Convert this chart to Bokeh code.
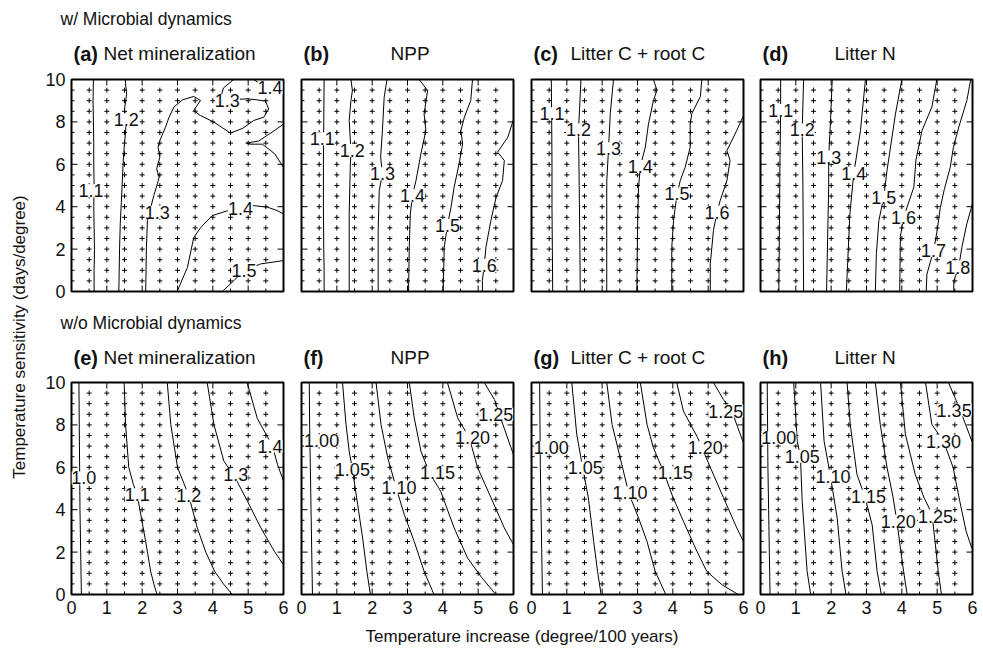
import math
from bokeh.plotting import figure
from bokeh.models import ColumnDataSource, LabelSet, Label, LinearAxis, SingleIntervalTicker, Range1d
from bokeh.layouts import row, column
from bokeh.embed import file_html
from bokeh.resources import INLINE
from bokeh.core.properties import value

FONT = "Liberation Sans"

# ---------------- data ----------------
cross_x = [0.5, 1.0, 1.5, 2.0, 2.5, 3.0, 3.5, 4.0, 4.5, 5.0, 5.5]
cross_y = [0.5, 1.0, 1.5, 2.0, 2.5, 3.0, 3.5, 4.0, 4.5, 5.0, 5.5, 6.0, 6.5, 7.0, 7.5, 8.0, 8.5, 9.0, 9.5]

x_major = [0, 1, 2, 3, 4, 5, 6]
x_minor = [0.5, 1.5, 2.5, 3.5, 4.5, 5.5]
y_major = [0, 2, 4, 6, 8, 10]
y_minor = [0.5, 1, 1.5, 2.5, 3, 3.5, 4.5, 5, 5.5, 6.5, 7, 7.5, 8.5, 9, 9.5]

row_titles = ["w/ Microbial dynamics", "w/o Microbial dynamics"]
panel_tags = ["(a)", "(b)", "(c)", "(d)", "(e)", "(f)", "(g)", "(h)"]
panel_names = ["Net mineralization", "NPP", "Litter C + root C", "Litter N",
               "Net mineralization", "NPP", "Litter C + root C", "Litter N"]
x_title = "Temperature increase (degree/100 years)"
y_title = "Temperature sensitivity (days/degree)"

# contour lines: (level, xs, ys); labels: (text, x, y)
a_lines = [
    ("1.1", [0.62, 0.61, 0.62, 0.63, 0.63, 0.64, 0.63, 0.64, 0.65, 0.64, 0.64],
            [10, 9, 8, 7, 6, 5, 4, 3, 2, 1, 0]),
    ("1.2", [1.52, 1.56, 1.50, 1.55, 1.53, 1.50, 1.47, 1.44, 1.41, 1.38, 1.36, 1.34],
            [10, 9.3, 8.6, 8.1, 7.5, 7.0, 6.3, 5.3, 4.2, 3.2, 2.0, 0]),
    ("1.3", [2.10, 2.12, 2.15, 2.33, 2.43, 2.48, 2.41, 2.50, 2.45, 2.50, 2.66, 2.76, 2.90, 3.14,
             3.46, 3.65, 3.46, 3.65, 4.03, 4.50, 4.85, 5.16, 5.44, 5.58, 5.49, 5.25, 4.97, 4.60,
             4.40, 4.25, 4.30, 4.59],
            [0.0, 2.09, 3.35, 4.53, 5.08, 5.39, 5.78, 6.34, 6.81, 7.12, 7.75, 8.22, 8.70, 9.04,
             9.20, 9.01, 8.54, 8.30, 7.99, 7.47, 7.70, 8.07, 8.22, 8.61, 8.98, 9.04, 9.09, 9.05,
             9.0, 9.3, 9.6, 10.0]),
    ("1.4", [5.15, 5.4, 5.7, 6.0], [10, 9.75, 9.6, 9.5]),
    ("1.4", [6.0, 5.75, 5.3, 4.95, 5.05, 5.4, 5.75, 6.0], [7.9, 7.6, 7.1, 7.0, 6.95, 6.95, 6.5, 5.85]),
    ("1.4", [2.99, 3.28, 3.46, 3.65, 3.98, 4.40, 4.78, 5.16, 5.54, 5.82, 6.0],
            [0, 1.13, 2.55, 3.0, 3.58, 3.80, 3.9, 4.05, 3.98, 3.82, 3.66]),
    ("1.5", [4.27, 4.6, 4.88, 5.35, 6.0], [0, 0.52, 0.99, 1.3, 1.46]),
]
a_labels = [("1.1", 0.55, 4.75), ("1.2", 1.55, 8.1), ("1.3", 2.43, 3.74), ("1.3", 4.41, 9.0),
            ("1.4", 5.62, 9.6), ("1.4", 4.78, 3.9), ("1.5", 4.88, 0.99)]

b_lines = [
    ("1.1", [0.64, 0.63, 0.62, 0.62, 0.63, 0.64, 0.64], [10, 8, 6, 4, 2, 1, 0]),
    ("1.2", [1.40, 1.44, 1.40, 1.35, 1.40, 1.38, 1.35, 1.35], [10, 9.48, 9.01, 8.07, 6.65, 5.86, 3.66, 0]),
    ("1.3", [2.42, 2.34, 2.29, 2.24, 2.29, 2.20, 2.17, 2.17], [10, 9.17, 7.59, 6.34, 5.55, 4.76, 2.88, 0]),
    ("1.4", [3.33, 3.57, 3.47, 3.52, 3.38, 3.24, 3.14, 3.08, 3.05, 3.03],
            [10, 9.48, 8.38, 7.59, 6.5, 5.23, 4.52, 3.66, 2.09, 0]),
    ("1.5", [4.84, 4.79, 4.61, 4.51, 4.56, 4.46, 4.32, 4.23, 4.13, 4.04, 4.01],
            [10, 9.01, 8.22, 7.59, 6.96, 6.02, 4.92, 3.97, 3.11, 2.09, 0]),
    ("1.6", [5.99, 5.84, 5.55, 5.74, 5.69, 5.51, 5.36, 5.22, 5.17, 5.12, 5.12],
            [8.07, 7.28, 6.57, 6.18, 5.23, 4.45, 3.35, 2.09, 1.23, 0.52, 0]),
]
b_labels = [("1.1", 0.59, 7.2), ("1.2", 1.44, 6.65), ("1.3", 2.29, 5.55), ("1.4", 3.14, 4.52),
            ("1.5", 4.13, 3.11), ("1.6", 5.17, 1.23)]

c_lines = [
    ("1.1", [0.56, 0.57, 0.58, 0.58, 0.59, 0.60], [10, 8.38, 6, 4, 2, 0]),
    ("1.2", [1.40, 1.36, 1.33, 1.35, 1.37, 1.38], [10, 8.6, 7.62, 5, 2, 0]),
    ("1.3", [2.32, 2.23, 2.18, 2.13, 2.13, 2.13], [10, 8.4, 6.73, 5.2, 2.5, 0]),
    ("1.4", [3.45, 3.55, 3.45, 3.31, 3.22, 3.08, 3.03, 3.0, 2.98], [10, 9.5, 9.0, 7.9, 6.8, 5.9, 4.9, 2.9, 0]),
    ("1.5", [4.82, 4.78, 4.54, 4.49, 4.49, 4.35, 4.21, 4.12, 4.02, 3.97, 3.97],
            [10, 9.2, 8.4, 7.9, 6.8, 5.86, 5.23, 4.6, 3.35, 2.09, 0]),
    ("1.6", [6.0, 5.81, 5.53, 5.62, 5.53, 5.34, 5.25, 5.15, 5.06, 5.06],
            [8.3, 7.6, 6.65, 6.18, 5.23, 4.29, 3.74, 2.88, 1.31, 0]),
]
c_labels = [("1.1", 0.58, 8.38), ("1.2", 1.33, 7.62), ("1.3", 2.18, 6.73), ("1.4", 3.08, 5.9),
            ("1.5", 4.12, 4.6), ("1.6", 5.25, 3.74)]

d_lines = [
    ("1.1", [0.57, 0.57, 0.55, 0.54, 0.53, 0.52], [10, 8.54, 6, 4, 2, 0]),
    ("1.2", [1.22, 1.20, 1.18, 1.20, 1.21, 1.22], [10, 8.8, 7.62, 5, 2.5, 0]),
    ("1.3", [2.03, 1.98, 1.93, 1.93, 1.90, 1.87], [10, 8.0, 6.34, 5.0, 2.5, 0]),
    ("1.4", [2.97, 2.83, 2.70, 2.64, 2.53, 2.43], [10, 7.6, 6.2, 5.58, 3.66, 0]),
    ("1.5", [4.0, 3.82, 3.58, 3.49, 3.35, 3.28, 3.25], [10, 8.38, 5.7, 4.45, 3.35, 1.8, 0]),
    ("1.6", [4.99, 4.85, 4.57, 4.40, 4.34, 4.05, 3.96, 3.94], [10, 8.7, 7.59, 6.2, 4.92, 3.5, 2.6, 0]),
    ("1.7", [5.95, 5.84, 5.62, 5.46, 5.37, 5.2, 5.09, 5.0, 4.9, 4.71, 4.69],
            [10, 9.01, 7.8, 6.81, 5.86, 4.8, 3.97, 2.88, 1.93, 0.82, 0]),
    ("1.8", [6.0, 5.84, 5.70, 5.61, 5.47, 5.47], [4.14, 3.2, 2.09, 1.15, 0.5, 0]),
]
d_labels = [("1.1", 0.57, 8.54), ("1.2", 1.18, 7.62), ("1.3", 1.93, 6.34), ("1.4", 2.64, 5.58),
            ("1.5", 3.49, 4.45), ("1.6", 4.05, 3.5), ("1.7", 4.9, 1.93), ("1.8", 5.58, 1.15)]

e_lines = [
    ("1.0", [0.21, 0.22, 0.23, 0.24, 0.26, 0.28], [10, 8, 6, 4, 2, 0]),
    ("1.1", [1.49, 1.53, 1.62, 1.75, 1.86, 1.96, 2.10, 2.24, 2.33, 2.42],
            [10, 8.02, 6.0, 5.2, 4.7, 3.77, 2.5, 1.09, 0.5, 0]),
    ("1.2", [2.71, 2.81, 3.0, 3.32, 3.56, 3.80, 4.05, 4.3, 4.55], [10, 8.02, 6.0, 4.66, 3.14, 2.0, 1.1, 0.5, 0]),
    ("1.3", [3.84, 4.03, 4.31, 4.65, 4.98, 5.36, 5.74, 6.0], [10, 8.02, 6.3, 5.45, 4.4, 3.14, 2.04, 1.4]),
    ("1.4", [4.97, 5.26, 5.69, 5.83, 6.0], [10, 8.3, 7.0, 6.13, 5.35]),
]
e_labels = [("1.0", 0.35, 5.5), ("1.1", 1.86, 4.7), ("1.2", 3.32, 4.66), ("1.3", 4.65, 5.65), ("1.4", 5.62, 7.0)]

f_lines = [
    ("1.00", [0.22, 0.23, 0.25, 0.27, 0.29, 0.31], [10, 8, 6, 4, 2, 0]),
    ("1.05", [1.16, 1.26, 1.35, 1.44, 1.59, 1.73, 1.85, 1.95], [10, 8.02, 6.76, 5.9, 4.24, 2.66, 1.09, 0]),
    ("1.10", [2.11, 2.25, 2.44, 2.68, 2.91, 3.19, 3.47, 3.75], [10, 8.02, 6.45, 5.03, 3.77, 2.5, 1.09, 0]),
    ("1.15", [3.05, 3.19, 3.38, 3.62, 3.94, 4.32, 4.70, 5.1, 5.5], [10, 8.33, 6.76, 5.74, 4.87, 3.14, 1.72, 0.8, 0]),
    ("1.20", [4.13, 4.42, 4.75, 4.98, 5.36, 5.74, 6.0], [10, 8.33, 7.39, 6.0, 4.58, 3.14, 2.35]),
    ("1.25", [5.17, 5.46, 5.6, 5.93, 6.0], [10, 9.2, 8.5, 6.92, 6.6]),
]
f_labels = [("1.00", 0.57, 7.25), ("1.05", 1.44, 5.9), ("1.10", 2.76, 5.03), ("1.15", 3.85, 5.74),
            ("1.20", 4.84, 7.39), ("1.25", 5.5, 8.5)]

g_lines = [
    ("1.00", [0.23, 0.24, 0.25, 0.27, 0.29, 0.31], [10, 8, 6, 4, 2, 0]),
    ("1.05", [1.14, 1.28, 1.45, 1.61, 1.76, 1.87, 1.97], [10, 7.56, 5.97, 4.55, 2.5, 1.09, 0]),
    ("1.10", [2.13, 2.28, 2.51, 2.75, 3.03, 3.27, 3.50, 3.8], [10, 8.02, 6.45, 4.79, 3.61, 2.5, 1.09, 0]),
    ("1.15", [3.08, 3.27, 3.45, 3.75, 4.0, 4.30, 4.68, 4.96, 5.4, 5.85],
             [10, 8.02, 6.92, 5.74, 4.6, 3.45, 2.04, 1.09, 0.45, 0]),
    ("1.20", [4.11, 4.3, 4.7, 5.06, 5.43, 5.81, 6.0], [10, 8.65, 7.4, 6.0, 4.58, 3.14, 2.5]),
    ("1.25", [5.15, 5.43, 5.67, 5.98], [10, 9.2, 8.65, 7.23]),
]
g_labels = [("1.00", 0.56, 6.92), ("1.05", 1.52, 5.97), ("1.10", 2.79, 4.79), ("1.15", 4.07, 5.74),
            ("1.20", 4.92, 6.92), ("1.25", 5.5, 8.65)]

h_lines = [
    ("1.00", [0.19, 0.20, 0.21, 0.23, 0.25, 0.27], [10, 8, 6, 4, 2, 0]),
    ("1.05", [0.94, 1.04, 1.13, 1.18, 1.32, 1.42], [10, 7.23, 6.52, 4.4, 1.09, 0]),
    ("1.10", [1.70, 1.80, 1.98, 2.17, 2.31, 2.42], [10, 7.23, 5.58, 3.61, 1.09, 0]),
    ("1.15", [2.45, 2.54, 2.73, 2.95, 3.16, 3.30, 3.42], [10, 8.02, 5.66, 4.63, 3.29, 1.09, 0]),
    ("1.20", [3.25, 3.39, 3.58, 3.75, 3.86, 3.96, 4.05, 4.15], [10, 8.02, 6.0, 4.6, 3.45, 2.19, 1.09, 0]),
    ("1.25", [3.96, 4.10, 4.38, 4.62, 4.85, 4.93, 5.03, 5.12], [10, 7.56, 5.66, 4.6, 3.81, 2.66, 1.09, 0]),
    ("1.30", [4.67, 4.85, 5.18, 5.45, 5.64, 5.82, 5.98], [10, 8.02, 7.23, 6.0, 4.4, 2.98, 2.19]),
    ("1.35", [5.32, 5.5, 5.64, 5.9, 5.98], [10, 9.3, 8.75, 7.6, 7.23]),
]
h_labels = [("1.00", 0.52, 7.39), ("1.05", 1.18, 6.52), ("1.10", 2.05, 5.58), ("1.15", 3.06, 4.63),
            ("1.20", 3.9, 3.45), ("1.25", 4.95, 3.7), ("1.30", 5.18, 7.23), ("1.35", 5.48, 8.7)]

all_lines = [a_lines, b_lines, c_lines, d_lines, e_lines, f_lines, g_lines, h_lines]
all_labels = [a_labels, b_labels, c_labels, d_labels, e_labels, f_labels, g_labels, h_labels]

# ---------------- layout / style ----------------
FRAME = 212
LEFT = [41, 7, 7, 7]
RIGHT = [11, 11, 10, 8]
FRAME_REL = [41, 271, 501, 730]     # frame left edges relative to the panel column
NAME_DX = [32, 89, 39, 74]
TXT = "#111111"
COL_W = sum(LEFT) + sum(RIGHT) + 4 * FRAME
H_HEAD = 66
TOP_T, TOP_B = 13, 13
BOT_T, BOT_B = 12, 30
H_XT = 24
H_TOP = TOP_T + FRAME + TOP_B
H_BOT = BOT_T + FRAME + BOT_B
TOTAL_H = 2 * H_HEAD + H_TOP + H_BOT + H_XT


def label_axis(ax):
    ax.axis_line_color = None
    ax.major_tick_line_color = None
    ax.minor_tick_line_color = None
    ax.major_tick_in = 0
    ax.major_tick_out = 0
    ax.minor_tick_in = 0
    ax.minor_tick_out = 0
    ax.major_label_text_font = FONT
    ax.major_label_text_font_size = "18px"
    ax.major_label_text_color = TXT
    ax.major_label_standoff = 6


def tick_marks(p, xs, ys, length, vertical):
    p.scatter(xs, ys, marker="dash", size=length, angle=(math.pi / 2 if vertical else 0),
              line_color="black", line_width=1)


def make_panel(i):
    col = i % 4
    top = i < 4
    L, R = LEFT[col], RIGHT[col]
    T = TOP_T if top else BOT_T
    B = TOP_B if top else BOT_B
    p = figure(width=L + FRAME + R, height=T + FRAME + B,
               x_range=Range1d(0, 6), y_range=Range1d(0, 10),
               output_backend="svg", toolbar_location=None,
               x_axis_location=None, y_axis_location=None,
               min_border_left=L, min_border_right=R, min_border_top=T, min_border_bottom=B,
               background_fill_color="white", border_fill_color="white")
    p.outline_line_color = "black"
    p.outline_line_width = 2
    p.outline_line_alpha = 1
    p.xgrid.visible = False
    p.ygrid.visible = False

    if not top:
        xb = LinearAxis(ticker=SingleIntervalTicker(interval=1))
        label_axis(xb)
        p.add_layout(xb, "below")
    if col == 0:
        yl = LinearAxis(ticker=SingleIntervalTicker(interval=2))
        label_axis(yl)
        p.add_layout(yl, "left")

    # inward ticks on all four sides
    tick_marks(p, x_major, [0] * len(x_major), 12, True)
    tick_marks(p, x_minor, [0] * len(x_minor), 6, True)
    tick_marks(p, x_major, [10] * len(x_major), 12, True)
    tick_marks(p, [0] * len(y_major), y_major, 12, False)
    tick_marks(p, [0] * len(y_minor), y_minor, 6, False)
    tick_marks(p, [6] * len(y_major), y_major, 12, False)

    gx = [x for y in cross_y for x in cross_x]
    gy = [y for y in cross_y for x in cross_x]
    p.scatter(gx, gy, marker="cross", size=5, line_color="black", line_width=1)

    lines = all_lines[i]
    src = ColumnDataSource(dict(xs=[l[1] for l in lines], ys=[l[2] for l in lines],
                                lev=[l[0] for l in lines]))
    p.multi_line(xs="xs", ys="ys", source=src, line_color="black", line_width=1)

    labs = all_labels[i]
    lsrc = ColumnDataSource(dict(x=[l[1] for l in labs], y=[l[2] for l in labs], t=[l[0] for l in labs]))
    p.add_layout(LabelSet(x="x", y="y", text="t", source=lsrc, text_align="center",
                          text_baseline="middle", text_font=value(FONT), text_font_size="18px",
                          text_color=TXT, background_fill_color="white", background_fill_alpha=1.0))
    return p


def blank(width, height):
    p = figure(width=width, height=height, x_range=Range1d(0, width), y_range=Range1d(0, height),
               output_backend="svg", toolbar_location=None, x_axis_location=None, y_axis_location=None,
               min_border=0, outline_line_color=None, background_fill_color="white",
               border_fill_color="white")
    p.xgrid.visible = False
    p.ygrid.visible = False
    return p


def make_header(r, y_row, y_title):
    height = H_HEAD
    p = blank(COL_W, height)
    tags = panel_tags[4 * r: 4 * r + 4]
    names = panel_names[4 * r: 4 * r + 4]
    p.text(x=[FRAME_REL[0] - 11], y=[height - y_row], text=[row_titles[r]],
           text_font=value(FONT), text_font_size="17.5px", text_baseline="middle", text_color=TXT)
    p.text(x=[f + 2 for f in FRAME_REL], y=[height - y_title] * 4, text=tags,
           text_font=value(FONT), text_font_style="bold", text_font_size="20px",
           text_baseline="middle", text_color=TXT)
    p.text(x=[f + d for f, d in zip(FRAME_REL, NAME_DX)], y=[height - y_title] * 4, text=names,
           text_font=value(FONT), text_font_size="19px", text_baseline="middle", text_color=TXT)
    return p


panels = [make_panel(i) for i in range(8)]
head1 = make_header(0, 18, 53)
head2 = make_header(1, 18, 53)

yt = blank(30, TOTAL_H)
yt.add_layout(Label(x=19, y=TOTAL_H - 336.5, text=y_title, angle=math.pi / 2, text_align="center",
                    text_baseline="middle", text_font=FONT, text_font_size="17px", text_color=TXT))

xt = blank(COL_W, H_XT)
xt.add_layout(Label(x=521.5 - 30, y=H_XT / 2, text=x_title, text_align="center", text_baseline="middle",
                    text_font=FONT, text_font_size="17px", text_color=TXT))

layout = row(yt, column(head1, row(*panels[:4]), head2, row(*panels[4:]), xt))

open("out.html", "w").write(file_html(layout, INLINE))
